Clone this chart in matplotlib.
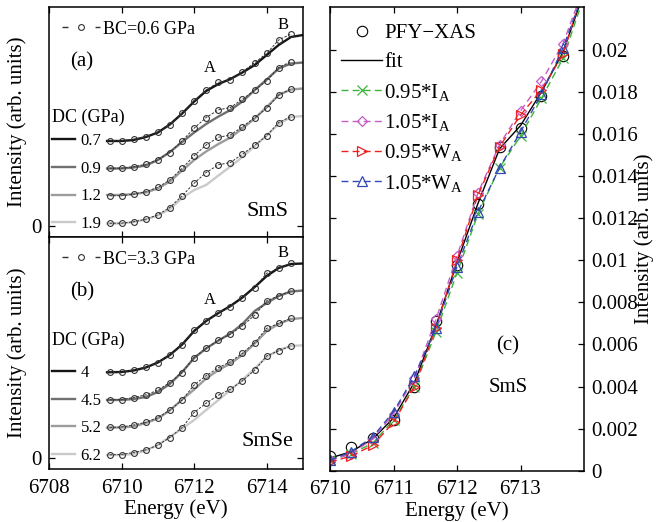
import matplotlib
matplotlib.use('Agg')
import matplotlib.pyplot as plt
import numpy as np
from matplotlib.lines import Line2D
from matplotlib.ticker import FuncFormatter

plt.rcParams['font.family'] = ['Liberation Serif', 'DejaVu Serif']
plt.rcParams['mathtext.fontset'] = 'custom'
plt.rcParams['mathtext.rm'] = 'Liberation Serif'
plt.rcParams['mathtext.it'] = 'Liberation Serif:italic'

# ---------------- data ----------------
energy_bc = [6709.67, 6710.0, 6710.33, 6710.67, 6711.0, 6711.33, 6711.67, 6712.0,
             6712.33, 6712.67, 6713.0, 6713.33, 6713.67, 6714.0, 6714.33, 6714.67]
energy_dc = [6709.6, 6710.0, 6710.33, 6710.67, 6711.0, 6711.33, 6711.67, 6712.0,
             6712.33, 6712.67, 6713.0, 6713.33, 6713.67, 6714.0, 6714.33, 6714.67, 6715.0]

# panel (a) SmS, BC = 0.6 GPa (base trace, shifted by offsets)
sms_bc = [0.028, 0.028, 0.042, 0.068, 0.112, 0.185, 0.302, 0.428, 0.535, 0.612,
          0.635, 0.718, 0.808, 0.902, 1.035, 1.095]
sms_offsets = [0.825, 0.55, 0.275, 0.0]
sms_dc_labels = ['0.7', '0.9', '1.2', '1.9']
sms_dc_07 = [0.85, 0.85, 0.86, 0.89, 0.935, 1.015, 1.125, 1.245, 1.35, 1.42, 1.47,
             1.535, 1.61, 1.71, 1.81, 1.89, 1.91]
sms_dc_09 = [0.575, 0.575, 0.585, 0.605, 0.66, 0.74, 0.84, 0.935, 1.02, 1.095, 1.16,
             1.245, 1.36, 1.465, 1.575, 1.625, 1.635]
sms_dc_12 = [0.31, 0.31, 0.32, 0.335, 0.375, 0.445, 0.555, 0.66, 0.745, 0.82, 0.885,
             0.975, 1.075, 1.19, 1.31, 1.365, 1.375]
sms_dc_19 = [0.025, 0.025, 0.04, 0.065, 0.105, 0.17, 0.28, 0.36, 0.41, 0.505, 0.595,
             0.69, 0.8, 0.905, 1.02, 1.09, 1.1]

# panel (b) SmSe, BC = 3.3 GPa
smse_bc = [0.035, 0.038, 0.058, 0.085, 0.131, 0.208, 0.308, 0.458, 0.551, 0.631,
           0.691, 0.775, 0.881, 1.025, 1.075, 1.125]
smse_offsets = [0.825, 0.55, 0.275, 0.0]
smse_dc_labels = ['4', '4.5', '5.2', '6.2']
smse_dc_40 = [0.86, 0.863, 0.878, 0.908, 0.958, 1.033, 1.138, 1.273, 1.373, 1.453,
              1.523, 1.608, 1.713, 1.823, 1.903, 1.943, 1.948]
smse_dc_45 = [0.583, 0.583, 0.593, 0.613, 0.663, 0.743, 0.863, 1.003, 1.098, 1.178,
              1.248, 1.343, 1.473, 1.553, 1.623, 1.668, 1.678]
smse_dc_52 = [0.306, 0.308, 0.318, 0.353, 0.398, 0.478, 0.588, 0.688, 0.798, 0.883,
              0.948, 1.033, 1.148, 1.273, 1.343, 1.393, 1.403]
smse_dc_62 = [0.033, 0.033, 0.043, 0.078, 0.133, 0.213, 0.298, 0.383, 0.483, 0.583,
              0.683, 0.783, 0.898, 1.013, 1.083, 1.123, 1.13]

# panel (c) SmS PFY-XAS and fits
energy_c = [6710.0, 6710.33, 6710.67, 6711.0, 6711.33, 6711.67, 6712.0, 6712.33,
            6712.67, 6713.0, 6713.33, 6713.67]
energy_fit = energy_c + [6713.95]
pfy_xas = [0.0007, 0.00115, 0.00155, 0.0024, 0.0040, 0.0071, 0.0098, 0.0127,
           0.0154, 0.0163, 0.0178, 0.0197]
fit = [0.0006, 0.0009, 0.0015, 0.0025, 0.0042, 0.0069, 0.0099, 0.0127, 0.0153,
       0.0164, 0.0180, 0.0199, 0.0223]
fit_095_IA = [0.0005, 0.0008, 0.0013, 0.0024, 0.0040, 0.0066, 0.0094, 0.0122, 0.0144,
              0.0159, 0.0177, 0.0196, 0.0221]
fit_105_IA = [0.0005, 0.0008, 0.0015, 0.0027, 0.0044, 0.0072, 0.0102, 0.0132, 0.0155,
              0.0171, 0.0185, 0.0203, 0.0226]
fit_095_WA = [0.0004, 0.0007, 0.0012, 0.0023, 0.0040, 0.0068, 0.0100, 0.0131, 0.0154,
              0.0169, 0.0181, 0.0198, 0.0225]
fit_105_WA = [0.0005, 0.0009, 0.0016, 0.0028, 0.0045, 0.0068, 0.0097, 0.0123, 0.0144,
              0.0161, 0.0179, 0.0201, 0.0224]

# ---------------- style ----------------
dc_colors = ['#151515', '#707070', '#9c9c9c', '#cacaca']
bc_color = '#333333'
FS = 15

W, H = 658, 522
fig = plt.figure(figsize=(W / 100, H / 100), dpi=100)


def px_axes(l, t, r, b):
    return fig.add_axes([l / W, 1 - b / H, (r - l) / W, (b - t) / H])


ax_a = px_axes(49, 7, 303, 237)
ax_b = px_axes(49, 237, 303, 469.3)
ax_c = px_axes(330, 7, 584, 470.7)

bc_style = dict(ls='--', dashes=(2.5, 1.5), color=bc_color, lw=0.7, marker='o', ms=4.2,
                mfc='none', mec=bc_color, mew=0.8)


def draw_xas(ax, bc, offsets, dcs, dc_labels, bc_label, panel, comp, ylim, pos):
    handles = []
    for off, dc, col, lab in zip(offsets, dcs, dc_colors, dc_labels):
        h, = ax.plot(energy_dc, dc, color=col, lw=1.7, label=lab)
        handles.append(h)
        ax.plot(energy_bc, np.array(bc) + off, **bc_style)
    ax.set_xlim(6708, 6715)
    ax.set_ylim(*ylim)
    ax.set_xticks([6708, 6710, 6712, 6714])
    ax.set_yticks([0])
    ax.set_yticklabels(['0'])
    ax.tick_params(direction='in', top=True, right=True, length=4, width=0.9,
                   labelsize=FS, pad=5)
    ax.tick_params(axis='x', pad=7)
    for s in ax.spines.values():
        s.set_linewidth(1.1)
    ax.set_ylabel('Intensity (arb. units)', fontsize=FS)
    ax.yaxis.set_label_coords(-0.085, 0.5)

    bc_h = Line2D([], [], ls='--', dashes=(4.3, 19.5), color=bc_color, lw=1.0, marker='o',
                  ms=4.2, mfc='none', mec=bc_color, mew=0.8)
    leg1 = ax.legend([bc_h], [bc_label], loc='upper left', bbox_to_anchor=(0.051, pos['bc']),
                     frameon=False, fontsize=13, handlelength=2.1, handletextpad=0.2,
                     borderpad=0, borderaxespad=0)
    ax.add_artist(leg1)
    ax.legend(handles, dc_labels, loc='upper left',
              bbox_to_anchor=(0.01, pos['dc']), frameon=False, fontsize=12,
              handlelength=1.4, handletextpad=0.35, labelspacing=0.70,
              borderpad=0, borderaxespad=0)
    ax.text(0.012, pos['title'], 'DC (GPa)', transform=ax.transAxes, ha='left',
            va='center', fontsize=13)
    ax.text(0.13, pos['panel'], panel, transform=ax.transAxes, ha='center', va='center',
            fontsize=FS)
    ax.text(0.635, pos['A'], 'A', transform=ax.transAxes, ha='center', va='center', fontsize=12)
    ax.text(0.92, pos['B'], 'B', transform=ax.transAxes, ha='center', va='center', fontsize=12)
    ax.text(0.86, pos['comp'], comp, transform=ax.transAxes, ha='center', va='center',
            fontsize=16)


draw_xas(ax_a, sms_bc, sms_offsets, [sms_dc_07, sms_dc_09, sms_dc_12, sms_dc_19],
         sms_dc_labels, 'BC=0.6 GPa', '(a)', 'SmS', (-0.11, 2.19),
         dict(bc=0.941, dc=0.452, title=0.522, panel=0.761, A=0.735, B=0.922, comp=0.109))
ax_a.tick_params(labelbottom=False)

draw_xas(ax_b, smse_bc, smse_offsets, [smse_dc_40, smse_dc_45, smse_dc_52, smse_dc_62],
         smse_dc_labels, 'BC=3.3 GPa', '(b)', 'SmSe', (-0.11, 2.213),
         dict(bc=0.9406, dc=0.449, title=0.557, panel=0.763, A=0.729, B=0.932, comp=0.118))
ax_b.set_xlabel('Energy (eV)', fontsize=FS, labelpad=1)

# panel (c)
ax_c.plot(energy_c, pfy_xas, ls='none', marker='o', ms=7.5, mfc='none', mec='k', mew=0.8,
          label='PFY\u2212XAS')
ax_c.plot(energy_fit, fit, color='k', lw=1.0, label='fit')
series = [
    (fit_095_IA, '#3cb33c', 'x', '0.95*I$_{\\mathrm{A}}$'),
    (fit_105_IA, '#c65cc6', 'D', '1.05*I$_{\\mathrm{A}}$'),
    (fit_095_WA, '#ee2020', '>', '0.95*W$_{\\mathrm{A}}$'),
    (fit_105_WA, '#3348b0', '^', '1.05*W$_{\\mathrm{A}}$'),
]
for vals, col, mk, lab in series:
    ax_c.plot(energy_fit, vals, ls='--', dashes=(5, 3), color=col, lw=1.0, marker=mk,
              markevery=list(range(len(energy_c))), ms=6.5 if mk != 'D' else 5.5,
              mfc='none', mec=col, mew=0.9, label=lab)

ax_c.set_xlim(6710, 6714)
ax_c.set_ylim(0, 0.02204)
ax_c.set_xticks([6710, 6711, 6712, 6713])
ax_c.set_yticks(np.arange(0, 0.0201, 0.002))
ax_c.yaxis.set_major_formatter(FuncFormatter(lambda v, p: f'{v:g}'))
ax_c.tick_params(direction='in', top=True, right=True, left=True, labelleft=False,
                 labelright=True, length=4, width=0.9, labelsize=FS, pad=5)
ax_c.tick_params(axis='x', pad=7)
for s in ax_c.spines.values():
    s.set_linewidth(1.1)
ax_c.yaxis.set_label_position('right')
ax_c.set_ylabel('Intensity (arb. units)', fontsize=FS)
ax_c.yaxis.set_label_coords(1.197, 0.5)
ax_c.set_xlabel('Energy (eV)', fontsize=FS, labelpad=1)
ax_c.legend(loc='upper left', bbox_to_anchor=(0.045, 0.964), frameon=False, fontsize=FS,
            handlelength=1.95, handletextpad=0.1, labelspacing=0.45, borderpad=0,
            borderaxespad=0)
ax_c.text(0.70, 0.27, '(c)', transform=ax_c.transAxes, ha='center', va='center', fontsize=FS)
ax_c.text(0.70, 0.18, 'SmS', transform=ax_c.transAxes, ha='center', va='center', fontsize=FS)

fig.savefig('out.png', dpi=100)
